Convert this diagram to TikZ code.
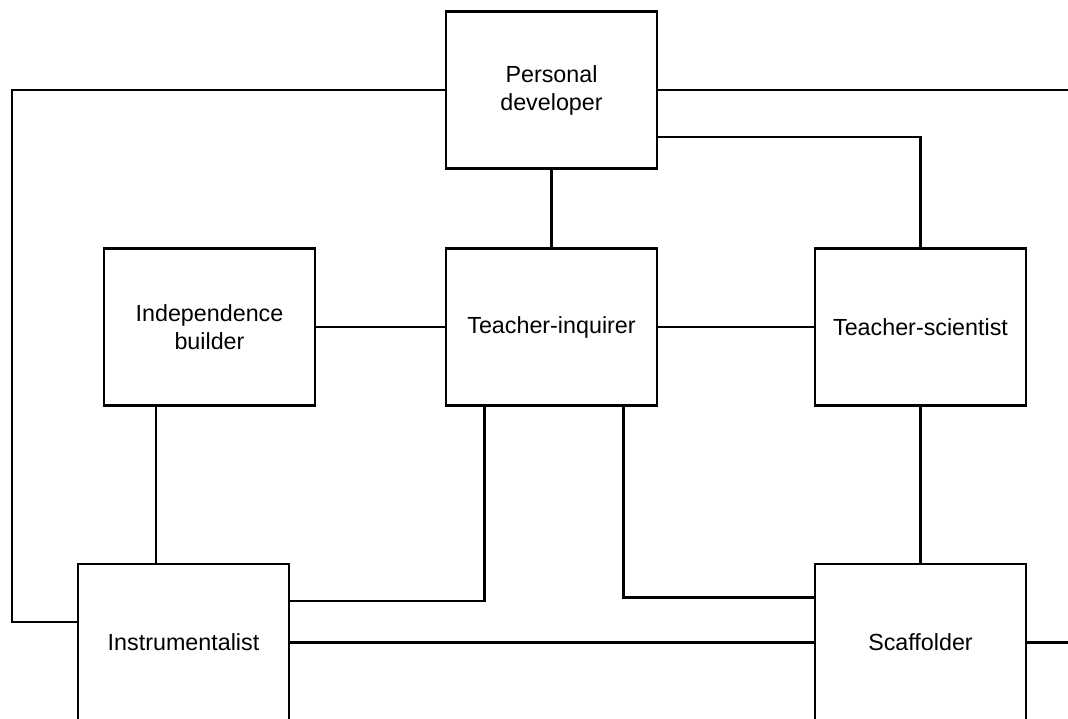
\documentclass[tikz,border=0pt]{standalone}
\usepackage{fontspec}
\setmainfont{Liberation Sans}
\usetikzlibrary{positioning}

\begin{document}
\begin{tikzpicture}[x=1pt,y=-1pt,line width=2.4pt,
    role/.style={draw,fill=white,minimum width=211pt,minimum height=157pt,
      align=center,font=\fontsize{23.3}{28}\selectfont}]
  \useasboundingbox (0,0) rectangle (1068,719);

  \node[role] (pd) at (551.5,90) {Personal\\developer};
  \node[role] (ib) at (209.5,327) {Independence\\builder};
  \node[role] (ti) at (551.5,327) {Teacher-inquirer};
  \node[role] (ts) at (920.5,327) {Teacher-scientist};
  \node[role] (inst) at (183.5,642.5) {Instrumentalist};
  \node[role] (sc) at (920.5,642.5) {Scaffolder};

  % free ends at the page edges
  \coordinate (lft) at (12,622);
  \coordinate (rtop) at (1068,90);
  \coordinate (rbot) at (1068,642.5);

  \draw (pd.west) -| (lft) -- (lft -| inst.west);
  \draw (pd.east) -- (rtop);
  \draw ([yshift=-47pt]pd.east) -| (ts.north);
  \draw (pd) -- (ti);
  \draw (ib) -- (ti);
  \draw (ti) -- (ts);
  \draw ([xshift=-53.5pt]ib.south) -- ([xshift=-53.5pt]ib.south |- inst.north);
  \draw ([xshift=-67pt]ti.south) |- ([yshift=41.5pt]inst.east);
  \draw ([xshift=72pt]ti.south) |- ([yshift=45pt]sc.west);
  \draw (ts) -- (sc);
  \draw (inst) -- (sc);
  \draw (sc.east) -- (rbot);
\end{tikzpicture}
\end{document}
